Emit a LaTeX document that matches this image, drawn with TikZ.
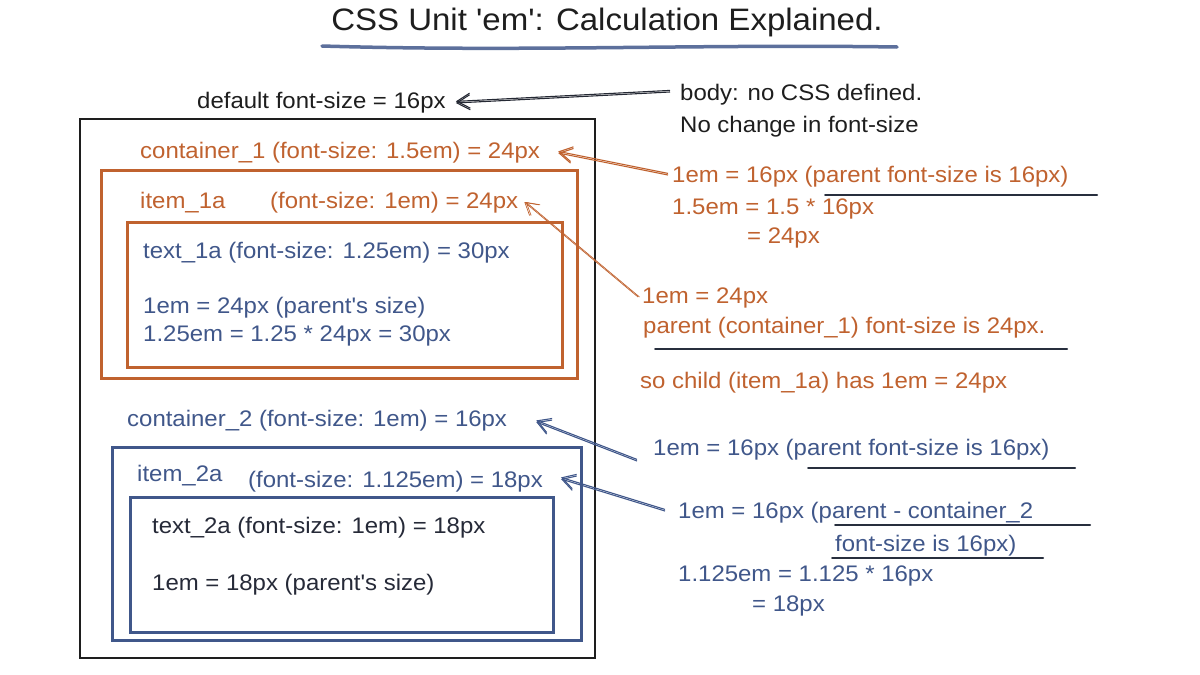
\documentclass[tikz,border=0pt]{standalone}
\usepackage{fontspec}
\newfontfamily\hand[FakeStretch=1.065]{Liberation Sans}
\usetikzlibrary{arrows.meta,calc}
\definecolor{ink}{HTML}{1E1E1E}
\definecolor{dark}{HTML}{262A38}
\definecolor{org}{HTML}{C0622F}
\definecolor{blu}{HTML}{40578A}
\begin{document}
\begin{tikzpicture}[x=1pt,y=-1pt,
  txt/.style={font=\hand\fontsize{22.5}{26}\selectfont, anchor=west, inner sep=0pt, yshift=-3pt},
  ttl/.style={font=\hand\fontsize{31}{36}\selectfont, inner sep=0pt, text=ink},
  box/.style={draw, line width=3pt, inner sep=0pt, fill=none},
  arr/.style={line width=1.1pt, -{Straight Barb[length=13pt,width=15pt]},
    postaction={draw, transform canvas={yshift=1.6pt}}},
  uline/.style={line width=2pt, color=ink!70!blu, line cap=round}
]
\useasboundingbox (0,0) rectangle (1200,675);
\fill[white] (0,0) rectangle (1200,675);

% title
\node[ttl] (title) at (607,22) {CSS Unit 'em': Calculation Explained.};
\draw[blu!85, line width=3.5pt, line cap=round]
  (322,46) .. controls (520,52) and (700,44) .. (897,47);

% body info
\node[txt, text=ink] (def) at (197,100) {default font-size = 16px};
\node[txt, text=ink] (body1) at (680,92) {body: no CSS defined.};
\node[txt, text=ink] (body2) at (680,124) {No change in font-size};
\draw[arr, ink!80!blu] ([xshift=-10pt,yshift=3pt]body1.west) -- ([xshift=10pt]def.east);

% boxes
\node[box, draw=ink, line width=2.2pt, minimum width=515pt, minimum height=539pt] (outer) at (337.5,388.5) {};
\node[box, draw=org, minimum width=476pt, minimum height=208pt] (item1) at (339,274) {};
\node[box, draw=org, minimum width=435pt, minimum height=145pt] (text1) at (344.5,294.5) {};
\node[box, draw=blu, minimum width=469pt, minimum height=193pt] (item2) at (346.5,543.5) {};
\node[box, draw=blu, minimum width=423pt, minimum height=135pt] (text2) at (341.5,564.5) {};

% container 1 labels
\node[txt, text=org] (c1) at (140,150) {container\_1 (font-size: 1.5em) = 24px};
\node[txt, text=org] (it1) at (140,200) {item\_1a};
\node[txt, text=org] (it1b) at (270,200) {(font-size: 1em) = 24px};
\node[txt, text=blu] (t1) at (143,250) {text\_1a (font-size: 1.25em) = 30px};
\node[txt, text=blu] (t1b) at (143,305) {1em = 24px (parent's size)};
\node[txt, text=blu] (t1c) at (143,333) {1.25em = 1.25 * 24px = 30px};

% container 2 labels
\node[txt, text=blu] (c2) at (127,418) {container\_2 (font-size: 1em) = 16px};
\node[txt, text=blu] (it2) at (137,473) {item\_2a};
\node[txt, text=blu] (it2b) at (248,479) {(font-size: 1.125em) = 18px};
\node[txt, text=dark] (t2) at (152,525) {text\_2a (font-size: 1em) = 18px};
\node[txt, text=dark] (t2b) at (152,582) {1em = 18px (parent's size)};

% right notes, orange
\node[txt, text=org] (r1a) at (672,174) {1em = 16px (parent font-size is 16px)};
\node[txt, text=org] (r1b) at (672,206) {1.5em = 1.5 * 16px};
\node[txt, text=org] (r1c) at (747,235) {= 24px};
\draw[uline] (825,195) -- (1097,195);

\node[txt, text=org] (r2a) at (642,295) {1em = 24px};
\node[txt, text=org] (r2b) at (643,325) {parent (container\_1) font-size is 24px.};
\draw[uline] (655,349) -- (1067,349);
\node[txt, text=org] (r2c) at (640,380) {so child (item\_1a) has 1em = 24px};

% right notes, blue
\node[txt, text=blu] (r3a) at (653,447) {1em = 16px (parent font-size is 16px)};
\draw[uline] (808,468) -- (1075,468);
\node[txt, text=blu] (r4a) at (678,510) {1em = 16px (parent - container\_2};
\draw[uline] (835,525) -- (1090,525);
\node[txt, text=blu] (r4b) at (835,543) {font-size is 16px)};
\draw[uline] (832,558) -- (1043,558);
\node[txt, text=blu] (r4c) at (678,573) {1.125em = 1.125 * 16px};
\node[txt, text=blu] (r4d) at (752,603) {= 18px};

% arrows
\draw[arr, org] ([xshift=-4pt,yshift=2pt]r1a.west) -- ([xshift=18pt]c1.east);
\draw[org, line width=0.7pt, -{Straight Barb[length=12pt,width=14pt]},
  postaction={draw, transform canvas={xshift=1.5pt}}]
  ([xshift=-4pt,yshift=1pt]r2a.west) -- ([xshift=6pt,yshift=1pt]it1b.east);
\draw[arr, blu] ([xshift=-16pt,yshift=-11pt]r3a.west) -- ([xshift=29pt,yshift=-1pt]c2.east);
\draw[arr, blu] ([xshift=-13pt,yshift=2pt]r4a.west) -- ([xshift=18pt,yshift=3pt]it2b.east);
\end{tikzpicture}
\end{document}
